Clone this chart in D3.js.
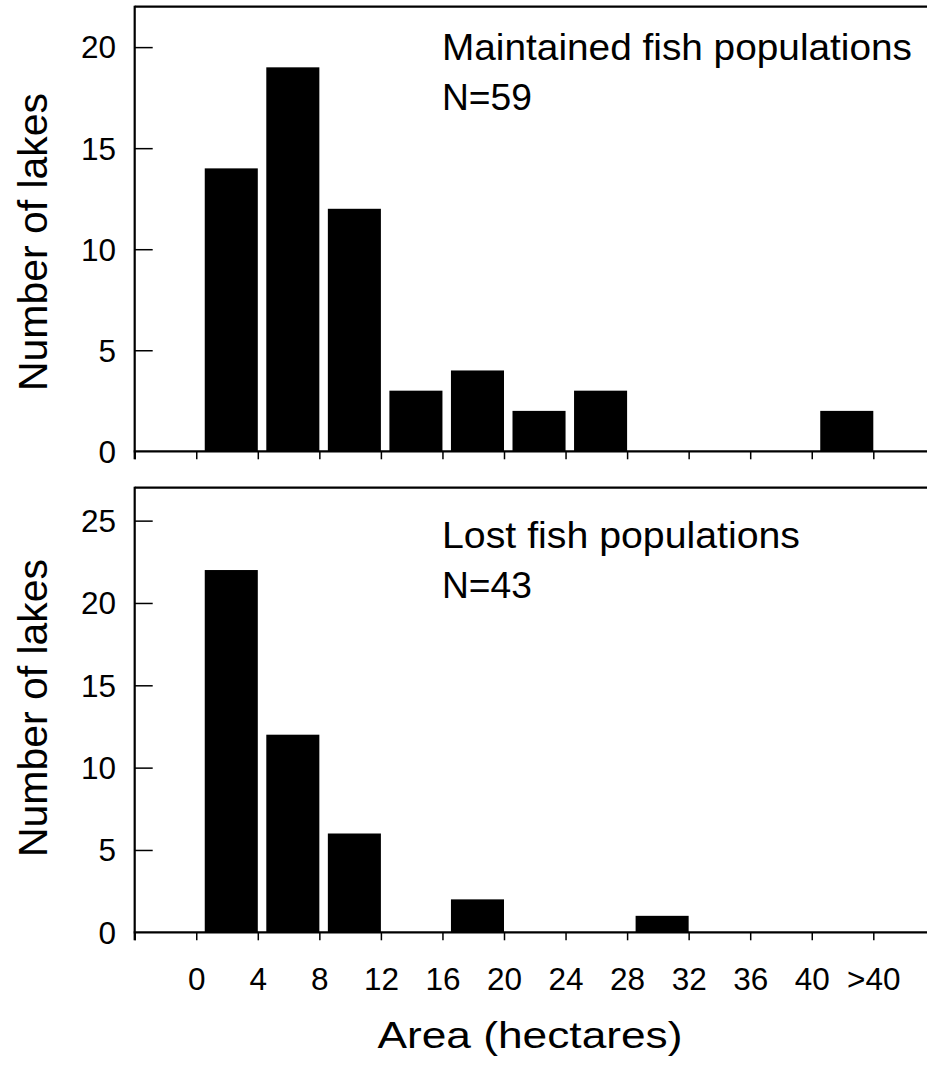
<!DOCTYPE html>
<html>
<head>
<meta charset="utf-8">
<script src="https://cdn.jsdelivr.net/npm/d3@7"></script>
<style>
  html, body { margin: 0; padding: 0; background: #fff; }
  svg { display: block; }
  text { font-family: "Liberation Sans", Arial, sans-serif; fill: #000; }
</style>
</head>
<body>
<svg id="chart" width="927" height="1065"></svg>
<script>
// ---- data ----
const binStarts = [0, 4, 8, 12, 16, 20, 24, 28, 32, 36, 40];
const maintained = [14, 19, 12, 3, 4, 2, 3, 0, 0, 0, 2];
const lost = [22, 12, 6, 0, 2, 0, 0, 1, 0, 0, 0];
const xTickValues = [-4, 0, 4, 8, 12, 16, 20, 24, 28, 32, 36, 40, 44];
const xTickLabels = ["", "0", "4", "8", "12", "16", "20", "24", "28", "32", "36", "40", ">40"];
const topYTicks = [0, 5, 10, 15, 20];
const botYTicks = [0, 5, 10, 15, 20, 25];
const binWidth = 4;

const svg = d3.select("#chart");

const x = d3.scaleLinear().domain([-4, 48]).range([134.7, 134.7 + 13 * 61.55]);
const gapPx = 8.5;

function panel(cfg) {
  const y = d3.scaleLinear().domain(cfg.domain).range([cfg.bottom, cfg.top]);
  const g = svg.append("g");

  // bars
  g.selectAll("rect.bar")
    .data(binStarts.map((b, i) => ({ b, v: cfg.values[i] })).filter(d => d.v > 0))
    .join("rect")
    .attr("class", "bar")
    .attr("x", d => x(d.b) + gapPx)
    .attr("width", d => x(d.b + binWidth) - x(d.b) - gapPx)
    .attr("y", d => y(d.v))
    .attr("height", d => y(0) - y(d.v))
    .attr("fill", "#000");

  // top frame line
  g.append("line")
    .attr("x1", x(-4)).attr("x2", 927)
    .attr("y1", cfg.top).attr("y2", cfg.top)
    .attr("stroke", "#000").attr("stroke-width", 2.2);

  // x axis
  const xAxis = d3.axisBottom(x)
    .tickValues(xTickValues)
    .tickSize(8)
    .tickFormat((d, i) => cfg.showLabels ? xTickLabels[i] : "");
  const xa = g.append("g")
    .attr("transform", `translate(0,${cfg.bottom})`)
    .call(xAxis);
  xa.select(".domain").remove();
  xa.selectAll(".tick line").attr("stroke", "#000").attr("stroke-width", 1.5);
  xa.selectAll(".tick text")
    .attr("font-size", 31.5)
    .attr("font-family", "Liberation Sans, Arial, sans-serif")
    .attr("fill", "#000")
    .attr("dy", 0)
    .attr("y", 57.5);
  g.append("line")
    .attr("x1", x(-4) - 1).attr("x2", 927)
    .attr("y1", cfg.bottom).attr("y2", cfg.bottom)
    .attr("stroke", "#000").attr("stroke-width", 2.2);

  // y axis
  const yAxis = d3.axisRight(y)
    .tickValues(cfg.yticks)
    .tickSize(18)
    .tickFormat("");
  const ya = g.append("g")
    .attr("transform", `translate(${x(-4)},0)`)
    .call(yAxis);
  ya.select(".domain").remove();
  ya.selectAll(".tick line").attr("stroke", "#000").attr("stroke-width", 1.5);
  ya.selectAll(".tick").filter(d => d === 0).select("line").remove();

  g.selectAll("text.ylab")
    .data(cfg.yticks)
    .join("text")
    .attr("class", "ylab")
    .attr("x", 116)
    .attr("y", d => y(d))
    .attr("dy", "0.36em")
    .attr("text-anchor", "end")
    .attr("font-size", 31.5)
    .text(d => d);

  g.append("line")
    .attr("x1", x(-4)).attr("x2", x(-4))
    .attr("y1", cfg.top - 1).attr("y2", cfg.bottom + 8)
    .attr("stroke", "#000").attr("stroke-width", 2.2);

  // annotation
  g.append("text")
    .attr("x", 442).attr("y", cfg.titleY)
    .attr("font-size", 36)
    .attr("textLength", cfg.titleLen)
    .attr("lengthAdjust", "spacingAndGlyphs")
    .text(cfg.title);
  g.append("text")
    .attr("x", 442).attr("y", cfg.titleY + 50)
    .attr("font-size", 36)
    .attr("textLength", 90)
    .attr("lengthAdjust", "spacingAndGlyphs")
    .text(cfg.nText);

  // y title
  g.append("text")
    .attr("transform", `translate(47,${cfg.ytitleY}) rotate(-90)`)
    .attr("text-anchor", "middle")
    .attr("font-size", 40)
    .attr("textLength", 298)
    .attr("lengthAdjust", "spacingAndGlyphs")
    .text("Number of lakes");
}

panel({
  values: maintained, domain: [0, 22], top: 6.7, bottom: 451.3, yticks: topYTicks,
  showLabels: false, title: "Maintained fish populations", titleLen: 470, nText: "N=59",
  titleY: 60, ytitleY: 242
});
panel({
  values: lost, domain: [0, 27], top: 487.7, bottom: 932.3, yticks: botYTicks,
  showLabels: true, title: "Lost fish populations", titleLen: 358, nText: "N=43",
  titleY: 547.7, ytitleY: 708
});

svg.append("text")
  .attr("x", 530).attr("y", 1048)
  .attr("text-anchor", "middle")
  .attr("font-size", 37)
  .attr("textLength", 305)
  .attr("lengthAdjust", "spacingAndGlyphs")
  .text("Area (hectares)");
</script>
</body>
</html>
